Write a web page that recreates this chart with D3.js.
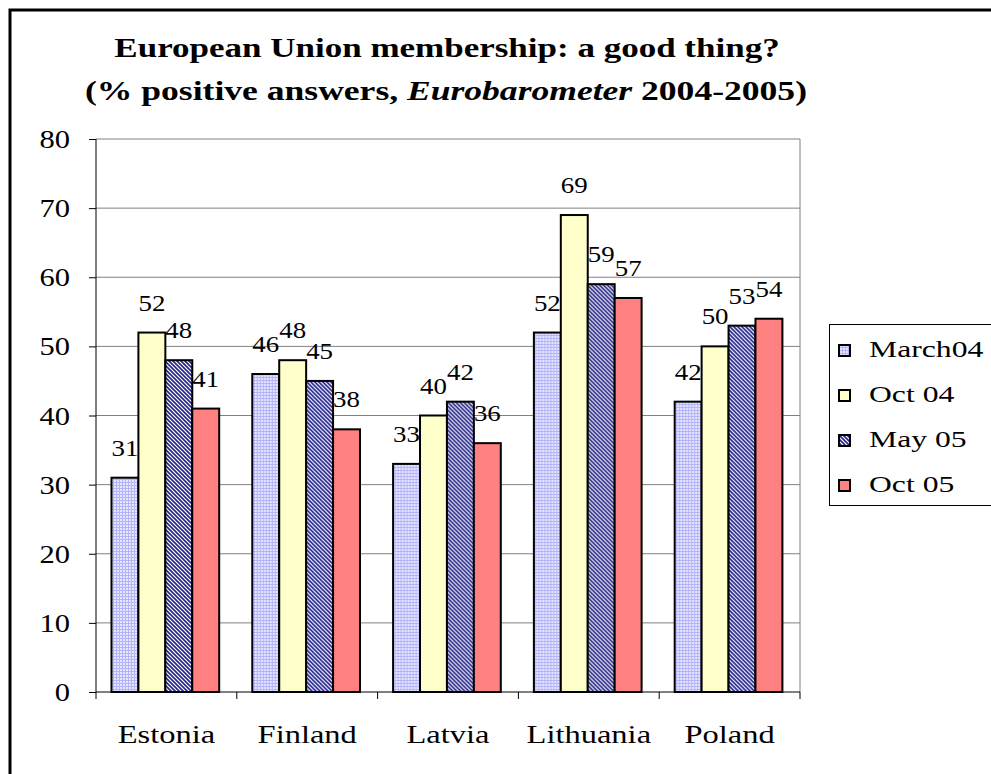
<!DOCTYPE html>
<html>
<head>
<meta charset="utf-8">
<title>European Union membership: a good thing?</title>
<style>
  body { margin: 0; background: #fff; }
  svg text { font-family: "Liberation Serif", "Times New Roman", serif; fill: #000; }
</style>
</head>
<body>
<svg id="chart" width="991" height="774"></svg>
<script src="https://cdn.jsdelivr.net/npm/d3@7"></script>
<script>
// data
var countries = ["Estonia", "Finland", "Latvia", "Lithuania", "Poland"];
var seriesNames = ["March04", "Oct 04", "May 05", "Oct 05"];
var march04 = [31, 46, 33, 52, 42];
var oct04 = [52, 48, 40, 69, 50];
var may05 = [48, 45, 42, 59, 53];
var oct05 = [41, 38, 36, 57, 54];
var yTicks = [0, 10, 20, 30, 40, 50, 60, 70, 80];

var seriesValues = [march04, oct04, may05, oct05];
var fills = ["url(#grid)", "#ffffcc", "url(#diag)", "#ff8080"];

var svg = d3.select("#chart");

// patterns for the hatched series
var defs = svg.append("defs");
var grid = defs.append("pattern").attr("id", "grid")
    .attr("patternUnits", "userSpaceOnUse").attr("width", 3).attr("height", 3);
grid.append("rect").attr("width", 3).attr("height", 3).attr("fill", "#b4b4fa");
grid.append("rect").attr("x", 0).attr("y", 0).attr("width", 2).attr("height", 2).attr("fill", "#e6e6ff");

var diag = defs.append("pattern").attr("id", "diag")
    .attr("patternUnits", "userSpaceOnUse").attr("width", 4).attr("height", 4);
diag.append("rect").attr("width", 4).attr("height", 4).attr("fill", "#ffffff");
diag.append("path").attr("d", "M-1,3 l2,2 M0,0 l4,4 M3,-1 l2,2")
    .attr("stroke", "#24248a").attr("stroke-width", 1.6);

// outer frame
svg.append("rect")
    .attr("x", 10).attr("y", 10).attr("width", 1000).attr("height", 800)
    .attr("fill", "none").attr("stroke", "#000").attr("stroke-width", 3);

// text drawn stretched a little sideways, like the original
function stext(parent, x, y, k) {
  return parent.append("text")
      .attr("transform", "translate(" + x + "," + y + ") scale(" + k + ",1)");
}

// title
stext(svg, 447, 57, 1.25)
    .attr("text-anchor", "middle")
    .style("font-size", "28px").style("font-weight", "bold")
    .text("European Union membership: a good thing?");
var t2 = stext(svg, 446, 100, 1.27)
    .attr("text-anchor", "middle")
    .style("font-size", "28px").style("font-weight", "bold");
t2.append("tspan").text("(% positive answers, ");
t2.append("tspan").style("font-style", "italic").text("Eurobarometer");
t2.append("tspan").text(" 2004-2005)");

// plot area
var plotLeft = 96, plotRight = 800, plotTop = 139, plotBottom = 692;

var x = d3.scaleBand().domain(countries).range([plotLeft, plotRight]).padding(0);
var xs = d3.scaleBand().domain(seriesNames)
    .range([x.bandwidth() * 0.11, x.bandwidth() * 0.875]).padding(0);
var y = d3.scaleLinear().domain([0, 80]).range([plotBottom, plotTop]);

// gridlines
svg.append("g").selectAll("line")
    .data(yTicks.filter(function (d) { return d > 0; }))
  .enter().append("line")
    .attr("x1", plotLeft).attr("x2", plotRight)
    .attr("y1", function (d) { return y(d); })
    .attr("y2", function (d) { return y(d); })
    .attr("stroke", "#808080").attr("stroke-width", 1);

svg.append("line")
    .attr("x1", plotRight).attr("x2", plotRight).attr("y1", plotTop).attr("y2", plotBottom)
    .attr("stroke", "#808080").attr("stroke-width", 1);

// bars
var groups = svg.append("g").selectAll("g")
    .data(countries)
  .enter().append("g")
    .attr("transform", function (d) { return "translate(" + x(d) + ",0)"; });

groups.selectAll("rect")
    .data(function (c, i) {
      return seriesNames.map(function (s, j) { return { s: s, j: j, v: seriesValues[j][i] }; });
    })
  .enter().append("rect")
    .attr("x", function (d) { return xs(d.s); })
    .attr("width", xs.bandwidth())
    .attr("y", function (d) { return y(d.v); })
    .attr("height", function (d) { return y(0) - y(d.v); })
    .attr("fill", function (d) { return fills[d.j]; })
    .attr("stroke", "#000").attr("stroke-width", 2);

// value labels
groups.each(function (c, i) {
  var g = d3.select(this);
  seriesNames.forEach(function (s, j) {
    var v = seriesValues[j][i];
    stext(g, xs(s) + xs.bandwidth() / 2, y(v) - 22, 1.12)
        .attr("text-anchor", "middle")
        .style("font-size", "24px")
        .text(v);
  });
});

// y axis
var yAxis = d3.axisLeft(y).tickValues(yTicks).tickSize(7).tickFormat("");
var ya = svg.append("g").attr("transform", "translate(" + plotLeft + ",0)").call(yAxis);
ya.select(".domain").remove();
ya.selectAll("line").attr("stroke", "#000");
svg.append("line")
    .attr("x1", plotLeft).attr("x2", plotLeft).attr("y1", plotTop).attr("y2", plotBottom)
    .attr("stroke", "#000").attr("stroke-width", 1);

yTicks.forEach(function (d) {
  stext(svg, 70, y(d) + 9, 1.22)
      .attr("text-anchor", "end")
      .style("font-size", "25px")
      .text(d);
});

// x axis
var boundaries = countries.map(function (c) { return x(c); }).concat([plotRight]);
svg.append("line")
    .attr("x1", plotLeft).attr("x2", plotRight).attr("y1", plotBottom).attr("y2", plotBottom)
    .attr("stroke", "#000").attr("stroke-width", 1);
svg.append("g").selectAll("line")
    .data(boundaries)
  .enter().append("line")
    .attr("x1", function (d) { return d; }).attr("x2", function (d) { return d; })
    .attr("y1", plotBottom).attr("y2", plotBottom + 7)
    .attr("stroke", "#000");

countries.forEach(function (c) {
  stext(svg, x(c) + x.bandwidth() / 2, 743, 1.3)
      .attr("text-anchor", "middle")
      .style("font-size", "25px")
      .text(c);
});

// legend
var legend = svg.append("g");
legend.append("rect")
    .attr("x", 829.5).attr("y", 324.5).attr("width", 170).attr("height", 181)
    .attr("fill", "#fff").attr("stroke", "#000").attr("stroke-width", 1);

seriesNames.forEach(function (s, j) {
  var base = 357 + j * 45;
  legend.append("rect")
      .attr("x", 839).attr("y", base - 12).attr("width", 11).attr("height", 11)
      .attr("fill", fills[j]).attr("stroke", "#000").attr("stroke-width", 2);
  stext(legend, 869, base, 1.32)
      .style("font-size", "24px")
      .text(s);
});
</script>
</body>
</html>
